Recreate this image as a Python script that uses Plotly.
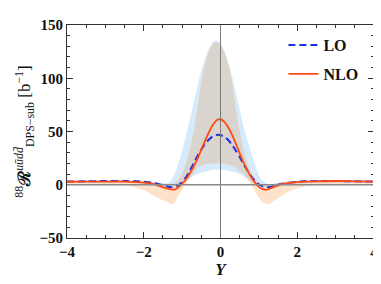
import plotly.graph_objects as go
import numpy as np

# Rapidity grid
Y = [-4, -3.5, -3, -2.5, -2.2, -2, -1.8, -1.6, -1.4, -1.3, -1.2, -1.1, -1.0, -0.9, -0.8, -0.7,
     -0.6, -0.5, -0.4, -0.3, -0.2, -0.1, 0, 0.1, 0.2, 0.3, 0.4, 0.5, 0.6, 0.7, 0.8, 0.9, 1.0,
     1.1, 1.2, 1.3, 1.4, 1.6, 1.8, 2, 2.2, 2.5, 3, 3.5, 4]

LO = [3, 3.2, 3.5, 3.5, 3.2, 2.8, 2, 0.5, -1.5, -2.3, -2, -0.5, 2.5, 7, 13, 20,
      27, 33, 38.5, 42.5, 45.5, 46.8, 46.5, 45, 42, 37.5, 32, 26, 19.5, 13.5, 8, 3.5, 0.5,
      -1.5, -2.3, -2, -1, 0.8, 2, 2.8, 3.2, 3.5, 3.5, 3.2, 3]

NLO = [2.8, 3, 3, 3, 2.5, 2, 1, -1, -3.5, -4.3, -4.5, -2.5, 1, 5, 10.5, 17,
       24.5, 33, 41.5, 49.5, 56, 60.5, 61.5, 59, 54, 47, 38.5, 29.5, 21, 13.5, 7, 2, -2,
       -4.2, -4.5, -3.5, -2, 0.5, 1.8, 2.5, 3, 3.2, 3.5, 3.2, 3]

LO_up = [4, 4.5, 4.5, 4.5, 4, 3.5, 2.5, 1.5, 1.5, 3, 10, 20, 32, 46, 61, 77,
         93, 107, 119, 128, 134, 135.5, 132, 125, 115, 102, 87, 71, 55, 42, 30, 19, 9,
         3.5, 1, 0.5, 1, 2, 3, 3.5, 4, 4.5, 4.5, 4.5, 4]

LO_dn = [2, 2, 2, 2, 1.5, 1, 0, -1.5, -3, -3, -2.5, -1.5, 0.5, 3, 5.5, 8,
         10, 11.5, 12.5, 13, 14, 14, 14, 13.5, 13, 12.5, 11.5, 10, 8, 5.5, 3, 0.5, -1.5,
         -2.5, -3, -3, -2.5, -1, 0.5, 1, 1.5, 2, 2, 2, 2]

NLO_up = [3, 3.5, 3.5, 3.5, 3.5, 3, 2.5, 1.5, 0.5, 0, 1, 5, 11, 20, 33, 50,
          72, 97, 114, 125, 132, 134, 132, 125, 114, 97, 72, 50, 33, 20, 11, 5, 1,
          0, 0, 0.5, 1, 2, 3, 3.5, 3.5, 3.5, 3.5, 3.5, 3]

NLO_dn = [1, 1, 0.5, -0.5, -2.5, -5, -9, -13, -16, -18, -17, -10, -5, 1, 6.5, 11,
          16, 18, 19, 19.5, 20, 20, 20, 19.5, 19, 18, 16, 13, 10, 5.5, 0, -6, -12,
          -16.5, -18, -17.5, -15, -10, -6, -3.5, -1.5, 0, 0.5, 1, 1]

x_ticks = [-4, -2, 0, 2, 4]
x_ticklabels = ["−4", "−2", "0", "2", "4"]
y_ticks = [-50, 0, 50, 100, 150]
y_ticklabels = ["−50", "0", "50", "100", "150"]

BLUE_BAND = "#d5ebfc"
ORANGE_BAND = "#fde1c8"
OVERLAP = "#dad4ce"
LO_COLOR = "#1f2ee6"
NLO_COLOR = "#ff4a12"

ov_up = np.minimum(LO_up, NLO_up)
ov_dn = np.maximum(LO_dn, NLO_dn)

fig = go.Figure()


def band(lo, hi, color):
    fig.add_trace(go.Scatter(x=Y, y=lo, mode="lines", line=dict(width=0, shape="spline", smoothing=0.7),
                             showlegend=False, hoverinfo="skip"))
    fig.add_trace(go.Scatter(x=Y, y=hi, mode="lines", line=dict(width=0, shape="spline", smoothing=0.7),
                             fill="tonexty", fillcolor=color, showlegend=False, hoverinfo="skip"))


band(LO_dn, LO_up, BLUE_BAND)
band(NLO_dn, NLO_up, ORANGE_BAND)
band(list(ov_dn), list(ov_up), OVERLAP)

fig.add_trace(go.Scatter(x=Y, y=LO, mode="lines", name="LO", legendgroup="a",
                         line=dict(color=LO_COLOR, width=2, dash="7px,4px", shape="spline", smoothing=0.7)))
fig.add_trace(go.Scatter(x=Y, y=NLO, mode="lines", name="NLO", legendgroup="b",
                         line=dict(color=NLO_COLOR, width=1.8, shape="spline", smoothing=0.7)))

# zero reference lines
fig.add_shape(type="line", xref="x", yref="paper", x0=0, x1=0, y0=0, y1=1,
              line=dict(color="#7a7a7a", width=1), layer="above")
fig.add_shape(type="line", xref="paper", yref="y", x0=0, x1=1, y0=0, y1=0,
              line=dict(color="#8a8a8a", width=1.5), layer="above")

tickfont = dict(family="Liberation Serif", size=15, color="#111", weight="bold")

# page body has an 8px margin, so the figure is shifted by 8px right and down
fig.update_layout(
    width=373, height=276,
    margin=dict(l=59, r=7, t=17, b=46, autoexpand=False),
    paper_bgcolor="white", plot_bgcolor="white",
    showlegend=True,
    legend=dict(x=0.705, y=0.985, xanchor="left", yanchor="top", bgcolor="rgba(0,0,0,0)",
                font=dict(family="Liberation Serif", size=16, color="#111", weight="bold"),
                tracegroupgap=5, traceorder="grouped"),
    xaxis=dict(range=[-4.0001, 4.0001], tickvals=x_ticks, ticktext=x_ticklabels, tickfont=tickfont,
               ticks="inside", ticklen=6, tickcolor="#333", showline=True, linecolor="#333",
               linewidth=1, mirror="ticks", showgrid=False, zeroline=False, automargin=False,
               ticklabeloverflow="allow",
               minor=dict(dtick=0.5, ticks="inside", ticklen=3, tickcolor="#333"),
               ticklabelstandoff=0,
               title=dict(text="<b><i>Y</i></b>", font=dict(family="Liberation Serif", size=17, color="#111"),
                          standoff=4)),
    yaxis=dict(range=[-50, 150], tickvals=y_ticks, ticktext=y_ticklabels, tickfont=tickfont,
               ticks="inside", ticklen=6, tickcolor="#333", showline=True, linecolor="#333",
               linewidth=1, mirror="ticks", showgrid=False, zeroline=False, automargin=False,
               ticklabeloverflow="allow",
               minor=dict(dtick=10, ticks="inside", ticklen=3, tickcolor="#333"),
               title=dict(text="<sup>88</sup><b>ℛ</b><sup><i>uūdd̄</i></sup><sub>DPS−sub</sub> [b<sup>−1</sup>]",
                          font=dict(family="Liberation Serif", size=17, color="#111"), standoff=4)),
)

fig.write_html("out.html")
